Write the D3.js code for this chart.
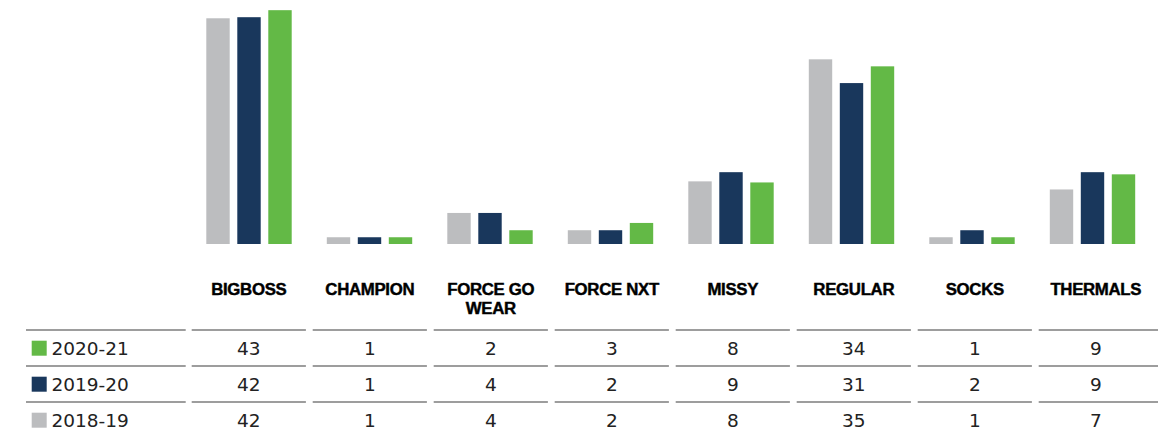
<!DOCTYPE html>
<html>
<head>
<meta charset="utf-8">
<script src="https://cdn.jsdelivr.net/npm/d3@7"></script>
<style>
  html, body { margin: 0; padding: 0; background: #fff; }
  svg { display: block; }
</style>
</head>
<body>
<div id="chart"></div>
<script>
// ---- data ----
const categories = ["BIGBOSS", "CHAMPION", "FORCE GO WEAR", "FORCE NXT", "MISSY", "REGULAR", "SOCKS", "THERMALS"];
const headerLines = [["BIGBOSS"], ["CHAMPION"], ["FORCE GO", "WEAR"], ["FORCE NXT"], ["MISSY"], ["REGULAR"], ["SOCKS"], ["THERMALS"]];
const seriesNames = ["2018-19", "2019-20", "2020-21"];
// bar heights
const bars2018 = [41.8, 1.25, 5.75, 2.55, 11.6, 34.2, 1.25, 10.1];
const bars2019 = [42.0, 1.25, 5.75, 2.55, 13.3, 29.8, 2.55, 13.3];
const bars2020 = [43.3, 1.25, 2.55, 3.9, 11.4, 32.9, 1.25, 12.9];
// table values as printed
const table2020 = [43, 1, 2, 3, 8, 34, 1, 9];
const table2019 = [42, 1, 4, 2, 9, 31, 2, 9];
const table2018 = [42, 1, 4, 2, 8, 35, 1, 7];
const tableRows = ["2020-21", "2019-20", "2018-19"];
const yTicks = [0, 45];

// ---- layout / style ----
const W = 1158, H = 436;
const colors = { "2018-19": "#bcbdbf", "2019-20": "#19375c", "2020-21": "#63b946" };
const barSeries = { "2018-19": bars2018, "2019-20": bars2019, "2020-21": bars2020 };
const tableSeries = { "2020-21": table2020, "2019-20": table2019, "2018-19": table2018 };

const svg = d3.select("#chart").append("svg").attr("width", W).attr("height", H);

const baseline = 244;
const y = d3.scaleLinear().domain(yTicks).range([baseline, baseline - 45 * 5.4]);

const x = d3.scaleBand().domain(categories).range([188.75, 188.75 + 8 * 120.5]).paddingInner(0).paddingOuter(0);
const innerW = 85.4;
const xs = d3.scaleBand().domain(seriesNames).range([0, innerW]).paddingInner(0.245).paddingOuter(0);

const groups = svg.append("g").selectAll("g")
  .data(categories)
  .join("g")
  .attr("transform", d => `translate(${x(d) + (x.bandwidth() - innerW) / 2},0)`);

groups.selectAll("rect")
  .data((c, i) => seriesNames.map(s => ({ s, v: barSeries[s][i] })))
  .join("rect")
  .attr("x", d => xs(d.s))
  .attr("width", xs.bandwidth())
  .attr("y", d => y(d.v))
  .attr("height", d => y(0) - y(d.v))
  .attr("fill", d => colors[d.s]);

// ---- table ----
const xt = d3.scaleBand().domain(categories).range([188.3, 188.3 + 8 * 121]);
const gap = 3.4;
const headerBase = 295, headerLH = 19.3;
const rowBase = [355, 391, 427];
const lineY = [330, 366, 402];

// headers
svg.append("g").selectAll("text")
  .data(categories)
  .join("text")
  .attr("x", d => xt(d) + xt.bandwidth() / 2)
  .attr("y", headerBase)
  .attr("text-anchor", "middle")
  .attr("font-family", "'Liberation Sans', Arial, sans-serif")
  .attr("font-weight", "bold")
  .attr("font-size", 16.8)
  .attr("letter-spacing", -0.3)
  .attr("fill", "#000")
  .attr("stroke", "#000")
  .attr("stroke-width", 0.45)
  .each(function (d, i) {
    d3.select(this).selectAll("tspan")
      .data(headerLines[i])
      .join("tspan")
      .attr("x", xt(d) + xt.bandwidth() / 2)
      .attr("dy", (t, j) => j === 0 ? 0 : headerLH)
      .text(t => t);
  });

// separator lines
const lineG = svg.append("g").attr("stroke", "#9d9d9d").attr("stroke-width", 2);
lineY.forEach(ly => {
  lineG.append("line").attr("x1", 26).attr("x2", 185.7).attr("y1", ly).attr("y2", ly);
  categories.forEach((c, i) => {
    const x1 = xt(c) + gap;
    const x2 = i === categories.length - 1 ? W : xt(c) + xt.bandwidth() - gap;
    lineG.append("line").attr("x1", x1).attr("x2", x2).attr("y1", ly).attr("y2", ly);
  });
});

// rows
tableRows.forEach((r, ri) => {
  const g = svg.append("g");
  g.append("rect")
    .attr("x", 31.7).attr("y", rowBase[ri] - 14.3)
    .attr("width", 15).attr("height", 15)
    .attr("fill", colors[r]);
  g.append("text")
    .attr("x", 51.5).attr("y", rowBase[ri])
    .attr("font-family", "'DejaVu Sans', sans-serif")
    .attr("font-size", 18.5)
    .attr("fill", "#222")
    .text(r);
  g.selectAll("text.v")
    .data(tableSeries[r])
    .join("text")
    .attr("class", "v")
    .attr("x", (v, i) => xt(categories[i]) + xt.bandwidth() / 2)
    .attr("y", rowBase[ri])
    .attr("text-anchor", "middle")
    .attr("font-family", "'DejaVu Sans', sans-serif")
    .attr("font-size", 18.5)
    .attr("fill", "#222")
    .text(v => v);
});
</script>
</body>
</html>
